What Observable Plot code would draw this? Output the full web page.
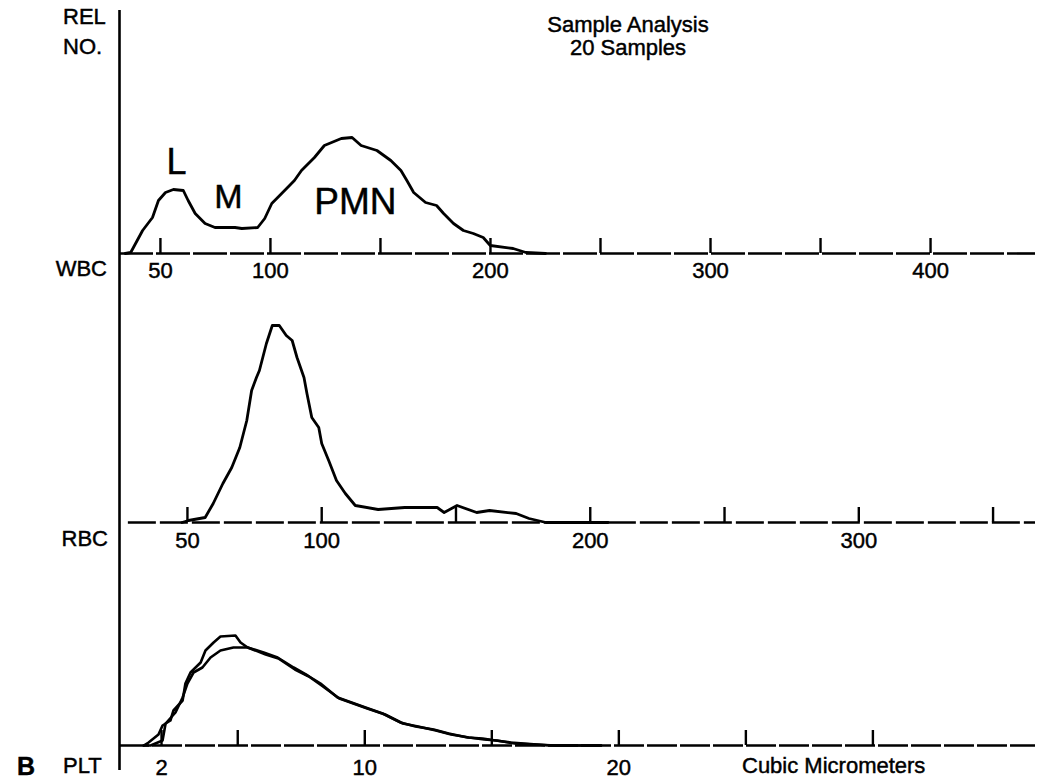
<!DOCTYPE html>
<html><head><meta charset="utf-8">
<script src="https://cdn.jsdelivr.net/npm/d3@7"></script>
<script src="https://cdn.jsdelivr.net/npm/@observablehq/plot@0.6"></script>
<style>
body{margin:0;background:#fff;}
#fig{position:relative;width:1040px;height:781px;overflow:hidden;background:#fff;font-family:"Liberation Sans",Arial,Helvetica,sans-serif;color:#000;}
#fig svg{position:absolute;left:0;overflow:visible;}
#fig svg text{stroke:#000;stroke-width:0.45px;}
.lbl{position:absolute;line-height:1;white-space:nowrap;color:#000;-webkit-text-stroke:0.45px #000;}
</style></head><body><div id="fig"></div>
<script>
// ---------- DATA ----------
// WBC histogram: volume (cubic micrometers) vs relative number
const wbcVol = [34, 36.5, 41.9, 46.4, 49.1, 52.3, 55.9, 60.4, 62.6, 65.8, 70.3, 74.8, 79.3, 83.9, 87, 94.2, 97.4, 100.6, 105.1, 110.9, 114.1, 120, 124.5, 132.2, 137.1, 141.2, 148.4, 154.7, 159.3, 162, 165.1, 170.5, 175.5, 178.7, 183.2, 187.7, 192.2, 196.7, 199.9, 210.3, 216.1, 225];
const wbcRel = [0, 1, 23, 36, 53, 61, 64, 63, 53, 40, 30, 26, 26, 26, 25, 26, 35, 50, 60, 73, 83, 96, 108, 115, 116, 108, 103, 93, 83, 73, 61, 51, 48, 40, 30, 23, 20, 16, 8, 5, 1, 0];
const wbcTicks = [50, 100, 150, 200, 250, 300, 350, 400];
const wbcTickLabels = [50, 100, 200, 300, 400];
const wbcNames = ["L", "M", "PMN"];
const wbcNameVol = [57.3, 80.9, 138.6];
const wbcNameRel = [80, 46, 40];
const wbcNameSize = [36, 34, 37];

// RBC histogram
const rbcVol = [48, 50.4, 56.6, 59.6, 63.2, 66.5, 69.5, 72.1, 73.9, 75.7, 76.8, 79.4, 81.6, 84.2, 86.8, 89.0, 90.8, 93.4, 94.5, 96.3, 98.9, 100, 102.6, 105.5, 108.8, 112.5, 121, 130.9, 143, 145.6, 150.4, 157.7, 162.5, 172.4, 177.2, 183.5, 206.6];
const rbcRel = [0, 2, 5, 19, 39, 55, 75, 102, 132, 145, 152, 179, 197, 197, 187, 182, 165, 145, 129, 105, 95, 79, 62, 42, 29, 17, 13, 15, 15, 10, 17, 10, 12, 9, 4, 0, 0];
const rbcTicks = [50, 100, 150, 200, 250, 300, 350];
const rbcTickLabels = [50, 100, 200, 300];

// PLT histograms (two overlaid runs)
const pltVolA = [1.3, 1.49, 1.88, 2.04, 2.35, 2.47, 2.83, 2.94, 3.14, 3.54, 3.73, 4.05, 4.32, 4.91, 5.11, 5.39, 6.1, 6.6, 7.25, 7.8, 8.3, 9.0, 10.1, 10.8, 11.5, 12.1, 12.8, 13.4, 14.1, 14.7, 15.2, 15.9, 17.5, 19.3];
const pltRelA = [0, 3, 11, 20, 25, 35, 45, 62, 73, 83, 95, 103, 109, 110, 103, 98, 91, 87, 76, 69, 60, 47, 37, 31, 22, 19, 15, 11, 8, 6, 5, 2, 0, 0];
const pltVolB = [1.3, 1.57, 2.04, 2.16, 2.55, 2.83, 3.02, 3.26, 3.61, 3.93, 4.32, 4.83, 5.39, 6.02, 6.57, 7.2, 7.75, 8.26, 8.93, 10.03, 10.7, 11.41, 12.0, 12.71, 13.3, 14.05, 14.64, 15.15, 15.74, 17.31, 19.3];
const pltRelB = [0, 0, 5, 22, 33, 48, 62, 73, 78, 88, 95, 98, 98, 93, 88, 78, 70, 62, 48, 38, 32, 23, 19, 16, 12, 8, 7, 5, 3, 0, 0];
const pltTicks = [2, 5, 10, 15, 20, 25, 30];
const pltTickLabels = [2, 10, 20];

// ---------- DRAWING ----------
const FONT = '"Liberation Sans", Arial, Helvetica, sans-serif';
const fig = document.getElementById("fig");
const ink = "#000";
const style = {fontFamily: FONT, fontSize: "22px", color: ink, background: "transparent", overflow: "visible"};
const CURVE = "linear";

function rows(xs, ys) { return xs.map((x, i) => ({x, y: ys[i]})); }

function place(svg, top) { svg.style.top = top + "px"; fig.appendChild(svg); }

function label(text, x, baseline, size, anchor = "start", weight = "normal") {
  const s = document.createElement("span");
  s.className = "lbl";
  s.textContent = text;
  s.style.fontSize = size + "px";
  s.style.fontWeight = weight;
  s.style.left = x + "px";
  s.style.top = (baseline - 0.8465 * size) + "px";
  if (anchor === "middle") s.style.transform = "translateX(-50%)";
  if (anchor === "end") s.style.transform = "translateX(-100%)";
  fig.appendChild(s);
}

// WBC panel
const wbcDom = [31.4, 447.7];
place(Plot.plot({
  width: 1040, height: 290, marginLeft: 119, marginRight: 5, marginTop: 0, marginBottom: 37,
  x: {domain: wbcDom, label: null}, y: {domain: [0, 253], axis: null},
  style,
  marks: [
    Plot.ruleY([0], {stroke: ink, strokeWidth: 2.6, strokeDasharray: "34,3"}),
    Plot.ruleX(wbcTicks, {y1: 0, y2: 15, stroke: ink, strokeWidth: 2.4}),
    Plot.axisX({ticks: wbcTickLabels, tickSize: 0, tickPadding: 9, tickFormat: d => String(d), label: null}),
    Plot.ruleX([wbcDom[0]], {y1: 243, y2: -37, stroke: ink, strokeWidth: 2.6}),
    Plot.line(rows(wbcVol, wbcRel), {x: "x", y: "y", curve: CURVE, stroke: ink, strokeWidth: 2.8}),
    Plot.text(wbcNames, {x: (d, i) => wbcNameVol[i], y: (d, i) => wbcNameRel[i], text: d => d,
      fontSize: (d, i) => wbcNameSize[i], lineAnchor: "bottom", textAnchor: "middle", fill: ink})
  ]
}), 0);

// RBC panel
const rbcDom = [24.7, 365.8];
place(Plot.plot({
  width: 1040, height: 270, marginLeft: 119, marginRight: 5, marginTop: 0, marginBottom: 38,
  x: {domain: rbcDom, label: null}, y: {domain: [0, 232], axis: null},
  style,
  marks: [
    Plot.ruleY([0], {x1: 28, x2: rbcDom[1], stroke: ink, strokeWidth: 2.4, strokeDasharray: "28,4"}),
    Plot.ruleX(rbcTicks, {y1: 0, y2: 15, stroke: ink, strokeWidth: 2.4}),
    Plot.axisX({ticks: rbcTickLabels, tickSize: 0, tickPadding: 10, tickFormat: d => String(d), label: null}),
    Plot.ruleX([rbcDom[0]], {y1: 232, y2: -38, stroke: ink, strokeWidth: 2.6}),
    Plot.line(rows(rbcVol, rbcRel), {x: "x", y: "y", curve: CURVE, stroke: ink, strokeWidth: 2.8})
  ]
}), 290);

// PLT panel
const pltDom = [0.346, 36.4];
place(Plot.plot({
  width: 1040, height: 221, marginLeft: 119, marginRight: 5, marginTop: 0, marginBottom: 36,
  x: {domain: pltDom, label: null}, y: {domain: [0, 185], axis: null},
  style,
  marks: [
    Plot.ruleY([0], {stroke: ink, strokeWidth: 2.6, strokeDasharray: "30,3"}),
    Plot.ruleX(pltTicks, {y1: 0, y2: 15, stroke: ink, strokeWidth: 2.4}),
    Plot.axisX({ticks: pltTickLabels, tickSize: 0, tickPadding: 14, tickFormat: d => String(d), label: null}),
    Plot.ruleX([pltDom[0]], {y1: 185, y2: -25, stroke: ink, strokeWidth: 2.6}),
    Plot.line(rows(pltVolA, pltRelA), {x: "x", y: "y", curve: CURVE, stroke: ink, strokeWidth: 2.6}),
    Plot.line(rows(pltVolB, pltRelB), {x: "x", y: "y", curve: CURVE, stroke: ink, strokeWidth: 2.6})
  ]
}), 560);

// Text labels around the axes
label("REL", 63, 25, 22);
label("NO.", 63, 55, 22);
label("Sample Analysis", 628, 33, 22, "middle");
label("20 Samples", 628, 56, 22, "middle");
label("WBC", 107, 277, 22, "end");
label("RBC", 108, 547, 22, "end");
label("B", 17, 775, 25, "start", "bold");
label("PLT", 63, 774, 22);
label("Cubic Micrometers", 742, 774, 22);
</script></body></html>
